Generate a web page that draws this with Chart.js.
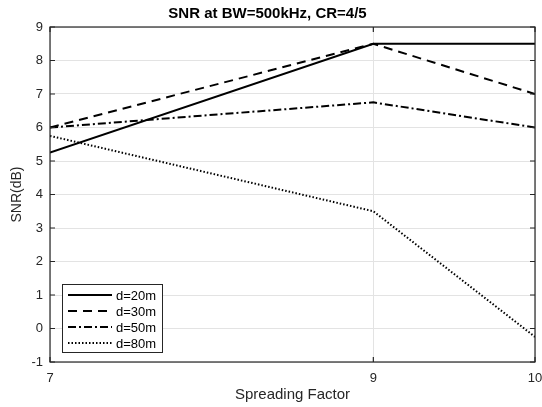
<!DOCTYPE html>
<html>
<head>
<meta charset="utf-8">
<script src="https://cdn.jsdelivr.net/npm/chart.js@4/dist/chart.umd.min.js"></script>
<style>
  html, body { margin: 0; padding: 0; background: #fff; }
  #wrap { width: 542px; height: 407px; }
</style>
</head>
<body>
<div id="wrap"><canvas id="snrChart" width="542" height="407"></canvas></div>
<script>
// Data
const spreadingFactors = [7, 9, 10];
const xTicks = [7, 9, 10];
const yTicks = [-1, 0, 1, 2, 3, 4, 5, 6, 7, 8, 9];
const labels = ["d=20m", "d=30m", "d=50m", "d=80m"];
const snr20 = [5.25, 8.5, 8.5];
const snr30 = [6, 8.5, 7];
const snr50 = [6, 6.75, 6];
const snr80 = [5.75, 3.5, -0.25];

const dashes = [[], [9, 6], [8, 3, 2, 3], [1.5, 2]];
const series = [snr20, snr30, snr50, snr80];

const font = "Arial, 'Liberation Sans', sans-serif";

function toPoints(vals) {
  return vals.map((v, i) => ({ x: spreadingFactors[i], y: v }));
}

// Box, inner ticks and legend
const boxPlugin = {
  id: "boxPlugin",
  afterDraw(chart) {
    const { ctx, chartArea: a, scales } = chart;
    ctx.save();
    ctx.strokeStyle = "#262626";
    ctx.lineWidth = 1.2;
    ctx.strokeRect(a.left, a.top, a.right - a.left, a.bottom - a.top);
    ctx.beginPath();
    xTicks.forEach((t) => {
      const px = scales.x.getPixelForValue(t);
      ctx.moveTo(px, a.bottom); ctx.lineTo(px, a.bottom - 5);
      ctx.moveTo(px, a.top); ctx.lineTo(px, a.top + 5);
    });
    yTicks.forEach((t) => {
      const py = scales.y.getPixelForValue(t);
      ctx.moveTo(a.left, py); ctx.lineTo(a.left + 5, py);
      ctx.moveTo(a.right, py); ctx.lineTo(a.right - 5, py);
    });
    ctx.stroke();

    // legend
    const lx = 62, ly = 284, lw = 100, lh = 68;
    ctx.fillStyle = "#fff";
    ctx.fillRect(lx, ly, lw, lh);
    ctx.strokeStyle = "#262626";
    ctx.lineWidth = 1;
    ctx.strokeRect(lx + 0.5, ly + 0.5, lw, lh);
    ctx.font = "13px " + font;
    ctx.textBaseline = "middle";
    labels.forEach((lab, i) => {
      const y = ly + 11 + i * 16;
      ctx.beginPath();
      ctx.setLineDash(dashes[i]);
      ctx.lineWidth = 2;
      ctx.strokeStyle = "#000";
      ctx.moveTo(lx + 6, y); ctx.lineTo(lx + 50, y);
      ctx.stroke();
      ctx.setLineDash([]);
      ctx.fillStyle = "#000";
      ctx.fillText(lab, lx + 54, y + 1);
    });
    ctx.restore();
  }
};

new Chart(document.getElementById("snrChart"), {
  type: "line",
  data: {
    datasets: series.map((s, i) => ({
      label: labels[i],
      data: toPoints(s),
      borderColor: "#000",
      borderWidth: 2,
      borderDash: dashes[i],
      pointRadius: 0,
      fill: false,
      tension: 0,
    })),
  },
  options: {
    responsive: false,
    animation: false,
    layout: { padding: { top: 1, right: 7, left: 0, bottom: 0 } },
    plugins: {
      legend: { display: false },
      tooltip: { enabled: false },
      title: {
        display: true,
        text: "SNR at BW=500kHz, CR=4/5",
        color: "#000",
        font: { family: font, size: 15, weight: "bold" },
        padding: { top: 4, bottom: 4 },
      },
    },
    scales: {
      x: {
        type: "linear",
        min: 7,
        max: 10,
        afterBuildTicks(scale) { scale.ticks = xTicks.map((v) => ({ value: v })); },
        afterFit(scale) {
          scale.height = 45;
          scale.paddingLeft = 0;
          scale.paddingRight = 0;
        },
        ticks: { color: "#262626", font: { family: font, size: 13 }, padding: 9 },
        grid: { color: "#e3e3e3", drawTicks: false },
        border: { display: false },
        title: {
          display: true,
          text: "Spreading Factor",
          color: "#262626",
          font: { family: font, size: 15 },
          padding: { top: 0, bottom: 3 },
        },
      },
      y: {
        min: -1,
        max: 9,
        afterBuildTicks(scale) { scale.ticks = yTicks.map((v) => ({ value: v })); },
        afterFit(scale) { scale.width = 50; },
        ticks: { color: "#262626", font: { family: font, size: 13 }, padding: 7 },
        grid: { color: "#e3e3e3", drawTicks: false },
        border: { display: false },
        title: {
          display: true,
          text: "SNR(dB)",
          color: "#262626",
          font: { family: font, size: 14 },
          padding: { top: 9, bottom: 0 },
        },
      },
    },
  },
  plugins: [boxPlugin],
});
</script>
</body>
</html>
